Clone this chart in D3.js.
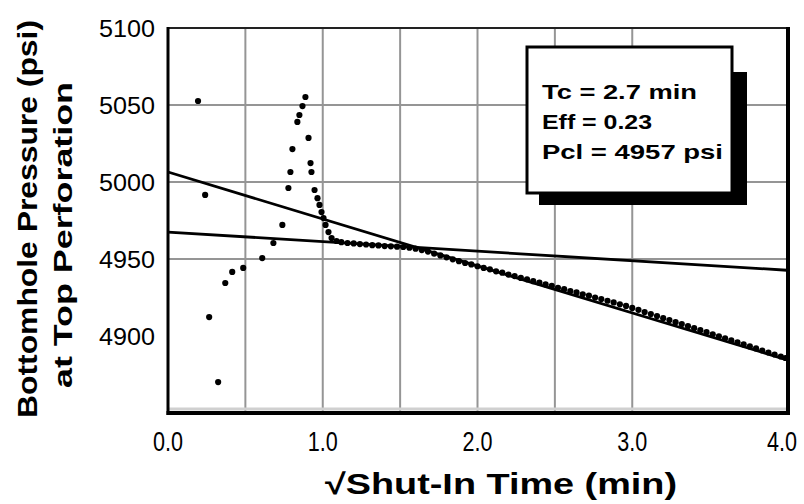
<!DOCTYPE html>
<html>
<head>
<meta charset="utf-8">
<script src="https://cdn.jsdelivr.net/npm/d3@7"></script>
<style>
  html, body { margin: 0; padding: 0; background: #fff; }
  svg { display: block; }
  text { font-family: Arial, "Liberation Sans", Helvetica, sans-serif; fill: #000; }
</style>
</head>
<body>
<svg id="chart" width="804" height="504"></svg>
<script>
// ---- data ----
const xTicks = [0, 1, 2, 3, 4];
const xTickLabels = ["0.0", "1.0", "2.0", "3.0", "4.0"];
const xGrid = [0.5, 1.0, 1.5, 2.0, 2.5, 3.0];
const yTicks = [4900, 4950, 5000, 5050, 5100];
const yGrid = [4950, 5000, 5050];

// sqrt shut-in time (min) and bottomhole pressure (psi)
const sqrtTime = [
  0.194, 0.240, 0.266, 0.324, 0.370, 0.415, 0.486, 0.609, 0.681, 0.739,
  0.778, 0.791, 0.804, 0.836, 0.849, 0.869, 0.888, 0.908, 0.921, 0.927,
  0.947, 0.966, 0.979, 0.992, 1.005, 1.018, 1.037, 1.057, 1.089,
  1.12, 1.16, 1.20, 1.24, 1.28, 1.32, 1.36, 1.40, 1.44, 1.48,
  1.52, 1.56, 1.60, 1.64, 1.68, 1.72, 1.76, 1.80, 1.84, 1.88,
  1.92, 1.96, 2.00, 2.04, 2.08, 2.12, 2.16, 2.20, 2.24, 2.28,
  2.32, 2.36, 2.40, 2.44, 2.48, 2.52, 2.56, 2.60, 2.64, 2.68,
  2.72, 2.76, 2.80, 2.84, 2.88, 2.92, 2.96, 3.00, 3.04, 3.08,
  3.12, 3.16, 3.20, 3.24, 3.28, 3.32, 3.36, 3.40, 3.44, 3.48,
  3.52, 3.56, 3.60, 3.64, 3.68, 3.72, 3.76, 3.80, 3.84, 3.88,
  3.92, 3.96, 3.99
];
const pressure = [
  5052.6, 4991.6, 4912.3, 4870.1, 4934.4, 4941.6, 4944.2, 4950.6, 4960.4, 4972.1,
  4996.1, 5006.5, 5021.4, 5039.0, 5043.5, 5049.3, 5055.2, 5028.6, 5012.3, 5006.5,
  4994.8, 4989.5, 4985.1, 4980.5, 4976.6, 4972.1, 4967.5, 4963.6, 4961.7,
  4960.9, 4960.4, 4960.1, 4959.7, 4959.4, 4959.0, 4958.8, 4958.4, 4958.2, 4958.0,
  4957.8, 4957.3, 4956.7, 4955.8, 4954.8, 4953.5, 4952.3, 4951.1, 4949.8, 4948.6,
  4947.4, 4946.5, 4945.3, 4944.2, 4943.3, 4942.0, 4941.1, 4939.9, 4938.9, 4937.7,
  4936.8, 4935.6, 4934.6, 4933.5, 4932.5, 4931.3, 4930.4, 4929.2, 4928.3, 4927.1,
  4926.2, 4925.0, 4924.0, 4922.9, 4921.8, 4920.6, 4919.5, 4918.2, 4917.0, 4915.6,
  4914.3, 4913.0, 4911.6, 4910.4, 4909.0, 4907.8, 4906.4, 4905.1, 4903.8, 4902.5,
  4901.1, 4899.8, 4898.5, 4897.1, 4895.9, 4894.5, 4893.2, 4891.9, 4890.6, 4889.3,
  4888.0, 4886.7, 4885.7
];

// two straight-line fits: [sqrtTime, pressure] end points
const fitLineSteep = [[0, 5006.5], [4, 4884.5]];
const fitLineFlat  = [[0, 4967.5], [4, 4942.7]];

const boxLines = ["Tc = 2.7 min", "Eff = 0.23", "Pcl = 4957 psi"];
const yTitleLines = ["Bottomhole Pressure (psi)", "at Top Perforation"];
const xTitle = "\u221AShut-In Time (min)";

// ---- layout ----
const svg = d3.select("#chart");
const plot = { left: 168, right: 787, top: 28, bottom: 413 };

const x = d3.scaleLinear().domain([0, 4]).range([plot.left, plot.right]);
const y = d3.scaleLinear().domain([4850, 5100]).range([plot.bottom, plot.top]);

// grid
svg.append("g").selectAll("line").data(xGrid).join("line")
  .attr("x1", d => x(d)).attr("x2", d => x(d))
  .attr("y1", plot.top).attr("y2", plot.bottom)
  .attr("stroke", "#959595").attr("stroke-width", 2);
svg.append("g").selectAll("line").data(yGrid).join("line")
  .attr("x1", plot.left).attr("x2", plot.right)
  .attr("y1", d => y(d)).attr("y2", d => y(d))
  .attr("stroke", "#959595").attr("stroke-width", 2);

// fit lines
const lineGen = d3.line().x(d => x(d[0])).y(d => y(d[1]));
[fitLineSteep, fitLineFlat].forEach(l => {
  svg.append("path").attr("d", lineGen(l))
    .attr("fill", "none").attr("stroke", "#000").attr("stroke-width", 2.8);
});

// data dots
const pts = sqrtTime.map((t, i) => [t, pressure[i]]);
svg.append("g").selectAll("circle").data(pts).join("circle")
  .attr("cx", d => x(d[0])).attr("cy", d => y(d[1]))
  .attr("r", 3.1).attr("fill", "#000");

// frame
svg.append("line").attr("x1", plot.left).attr("x2", plot.right + 2)
  .attr("y1", plot.top).attr("y2", plot.top).attr("stroke", "#222").attr("stroke-width", 2);
svg.append("line").attr("x1", plot.left - 1).attr("x2", plot.right + 2)
  .attr("y1", plot.bottom - 4).attr("y2", plot.bottom - 4).attr("stroke", "#d0d0d0").attr("stroke-width", 3);
svg.append("line").attr("x1", plot.left - 1.5).attr("x2", plot.right + 3)
  .attr("y1", plot.bottom).attr("y2", plot.bottom).attr("stroke", "#000").attr("stroke-width", 4);
svg.append("line").attr("x1", plot.left).attr("x2", plot.left)
  .attr("y1", plot.top - 1).attr("y2", plot.bottom + 2).attr("stroke", "#000").attr("stroke-width", 3);
svg.append("line").attr("x1", plot.right + 1).attr("x2", plot.right + 1)
  .attr("y1", plot.top - 1).attr("y2", plot.bottom + 2).attr("stroke", "#000").attr("stroke-width", 4);

// y tick labels
svg.append("g").selectAll("text").data(yTicks).join("text")
  .attr("x", 155).attr("y", d => y(d))
  .attr("dy", "0.36em")
  .attr("text-anchor", "end")
  .attr("font-size", 24)
  .attr("textLength", 56).attr("lengthAdjust", "spacingAndGlyphs")
  .text(d => d);

// x tick labels
svg.append("g").selectAll("text").data(xTicks).join("text")
  .attr("x", (d, i) => x(d))
  .attr("y", 451)
  .attr("text-anchor", (d, i) => i === xTicks.length - 1 ? "end" : "middle")
  .attr("dx", (d, i) => i === xTicks.length - 1 ? 10 : 0)
  .attr("font-size", 27)
  .attr("textLength", 30).attr("lengthAdjust", "spacingAndGlyphs")
  .text((d, i) => xTickLabels[i]);

// x title
svg.append("text")
  .attr("x", 501).attr("y", 494)
  .attr("text-anchor", "middle")
  .attr("font-size", 29).attr("font-weight", "bold")
  .attr("textLength", 352).attr("lengthAdjust", "spacingAndGlyphs")
  .text(xTitle);

// y titles (rotated)
const yTitlePos = [{ cx: 37, cy: 219, len: 398, fs: 28 }, { cx: 72, cy: 235, len: 306, fs: 26 }];
yTitleLines.forEach((s, i) => {
  const p = yTitlePos[i];
  svg.append("text")
    .attr("transform", `translate(${p.cx},${p.cy}) rotate(-90)`)
    .attr("text-anchor", "middle")
    .attr("font-size", p.fs).attr("font-weight", "bold")
    .attr("textLength", p.len).attr("lengthAdjust", "spacingAndGlyphs")
    .text(s);
});

// annotation box with shadow
const box = { x: 527, y: 47, w: 205, h: 146 };
svg.append("rect").attr("x", box.x + 12).attr("y", box.y + 25)
  .attr("width", box.w + 3).attr("height", box.h - 13).attr("fill", "#000");
svg.append("rect").attr("x", box.x).attr("y", box.y)
  .attr("width", box.w).attr("height", box.h)
  .attr("fill", "#fff").attr("stroke", "#000").attr("stroke-width", 3);
const boxLens = [155, 110, 181];
svg.append("g").selectAll("text").data(boxLines).join("text")
  .attr("x", 542).attr("y", (d, i) => 99 + i * 30)
  .attr("font-size", 21).attr("font-weight", "bold")
  .attr("textLength", (d, i) => boxLens[i]).attr("lengthAdjust", "spacingAndGlyphs")
  .text(d => d);
</script>
</body>
</html>
